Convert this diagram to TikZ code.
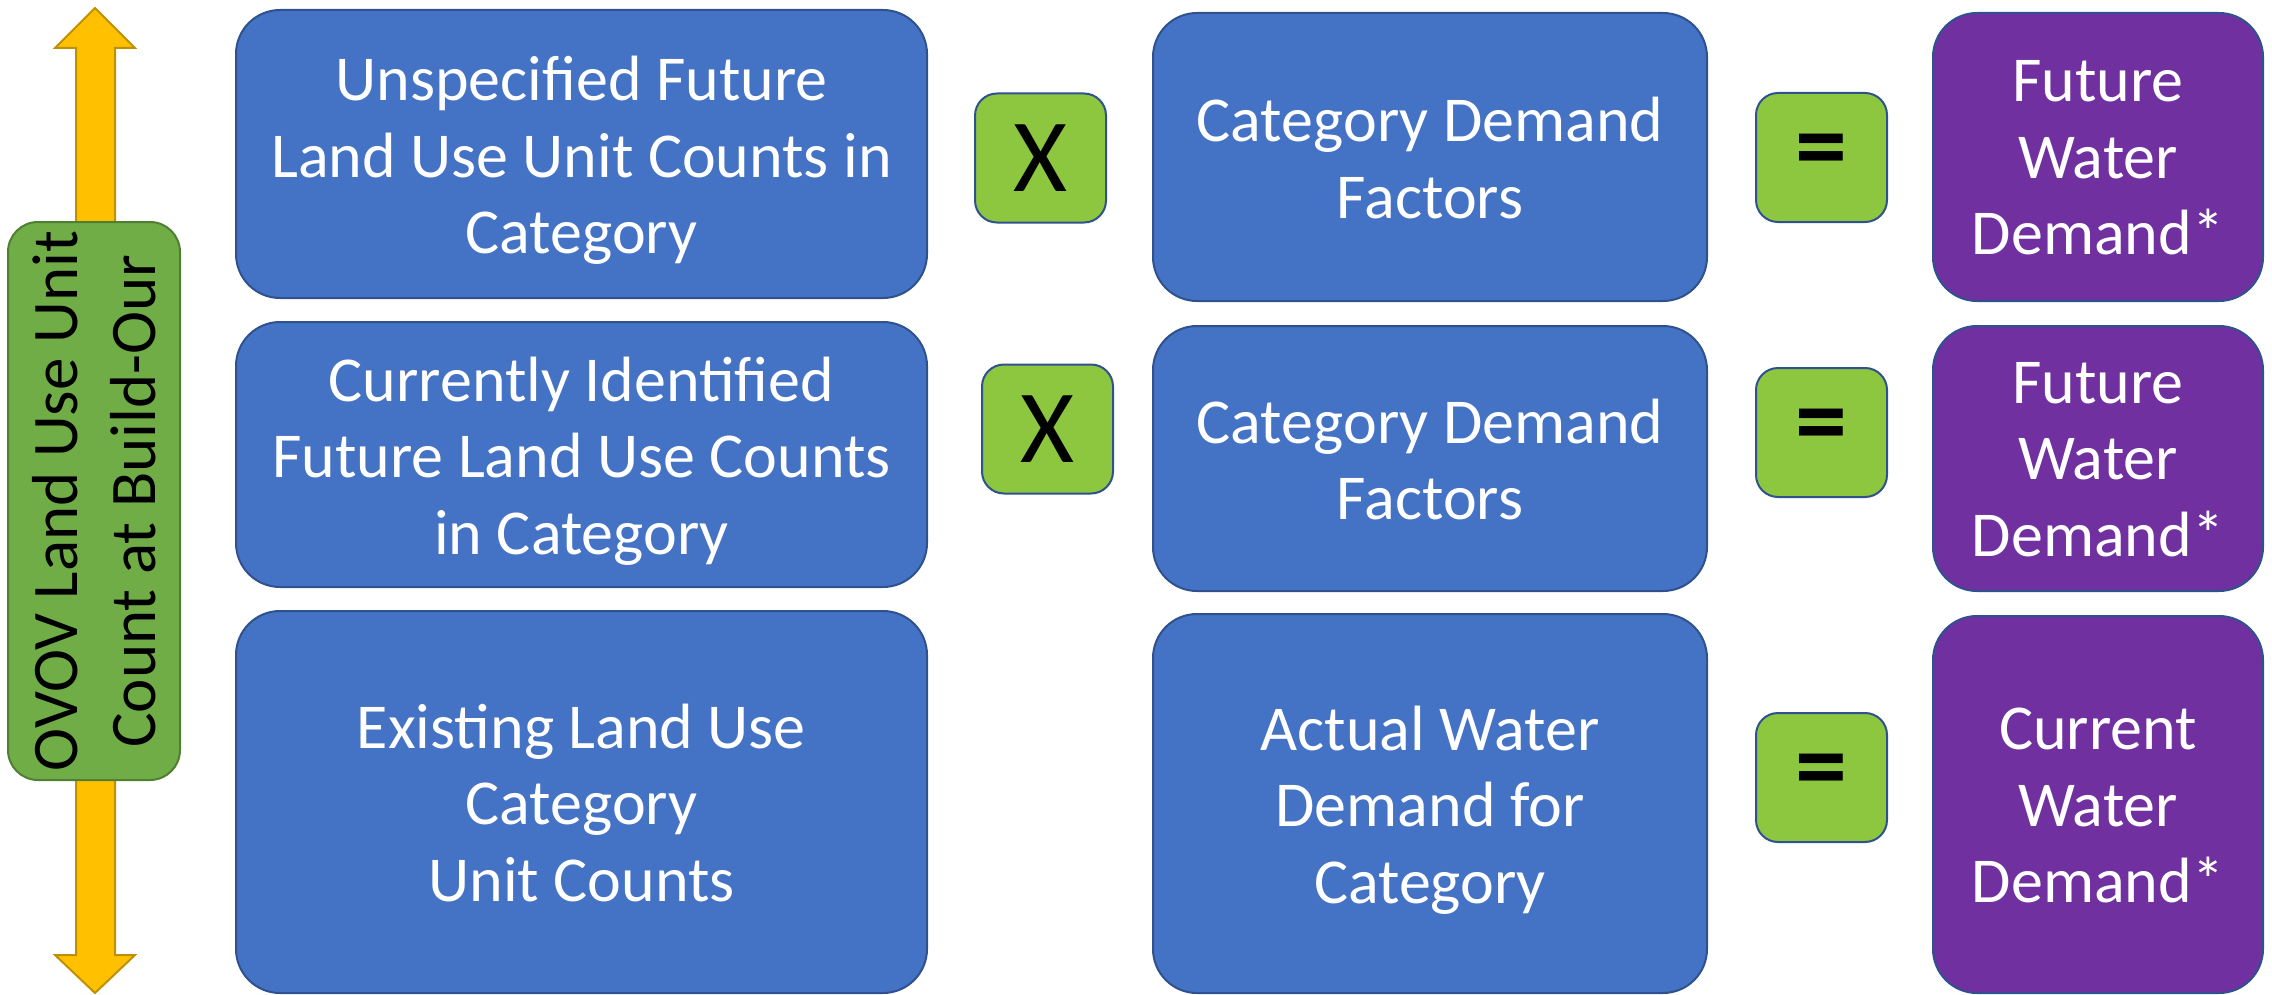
\documentclass[tikz,border=0pt]{standalone}
\usepackage{fontspec}
\setmainfont{Carlito}
\definecolor{blueFill}{HTML}{4472C4}
\definecolor{blueLine}{HTML}{2F528F}
\definecolor{purpleFill}{HTML}{7030A0}
\definecolor{opFill}{HTML}{8DC63F}
\definecolor{greenFill}{HTML}{70AD47}
\definecolor{greenLine}{HTML}{507E32}
\definecolor{arrowFill}{HTML}{FFC000}
\definecolor{arrowLine}{HTML}{BF9000}
\tikzset{
  bigbox/.style={draw=blueLine, line width=1pt, rounded corners=22pt, inner sep=0pt},
  boxtext/.style={text=white, align=center, font=\fontsize{32}{38.25}\selectfont},
  textA/.style={boxtext, yshift=-0.5pt},
  textB/.style={boxtext, yshift=-3.2pt},
  bluebox/.style={bigbox, fill=blueFill, minimum width=345.5pt},
  midbox/.style={bigbox, fill=blueFill, minimum width=277pt},
  resbox/.style={bigbox, fill=purpleFill, minimum width=165pt},
  opbox/.style={draw=blueLine, line width=1pt, fill=opFill, rounded corners=11pt, inner sep=0pt,
    minimum width=65.5pt, minimum height=64.5pt, text=black, font=\fontsize{52}{52}\selectfont},
  eqbox/.style={opbox, font=\fontsize{52}{52}\selectfont\bfseries},
  sidebox/.style={draw=greenLine, line width=1pt, fill=greenFill, rounded corners=15pt, inner sep=0pt,
    minimum width=86pt, minimum height=279pt},
  sidetext/.style={rotate=90, align=center, text=black, font=\fontsize{32.5}{39}\selectfont},
  bigarrow/.style={draw=arrowLine, line width=1pt, fill=arrowFill}
}
\begin{document}
\begin{tikzpicture}[x=0.5pt, y=-0.5pt]
\useasboundingbox (0,0) rectangle (2272,995);
% double arrow behind the side box
\draw[bigarrow] (95,8) -- (135,48) -- (115,48) -- (115,955) -- (135,955) -- (95,993)
  -- (55,955) -- (76,955) -- (76,48) -- (55,48) -- cycle;
\node[sidebox] (side) at (94,501) {};
\node[sidetext] (sidelabel) at (side.center) {OVOV Land Use Unit\\Count at Build-Our};
% row 1
\node[bluebox, minimum height=144pt] (l1) at (581.5,154) {};
\node[textB] (l1t) at (l1.center) {Unspecified Future\\Land Use Unit Counts in\\Category};
\node[opbox] (x1) at (1040.5,158) {X};
\node[midbox, minimum height=144pt] (m1) at (1430,157) {};
\node[textA] (m1t) at (m1.center) {Category Demand\\Factors};
\node[eqbox] (e1) at (1821.5,157.5) {=};
\node[resbox, minimum height=144pt] (r1) at (2098,157) {};
\node[textA] (r1t) at (r1.center) {Future\\Water\\Demand*};
% row 2
\node[bluebox, minimum height=132.5pt] (l2) at (581.5,454.5) {};
\node[textB] (l2t) at (l2.center) {Currently Identified\\Future Land Use Counts\\in Category};
\node[opbox] (x2) at (1047.5,429) {X};
\node[midbox, minimum height=132.5pt] (m2) at (1430,458.5) {};
\node[textA] (m2t) at (m2.center) {Category Demand\\Factors};
\node[eqbox] (e2) at (1821.5,432.5) {=};
\node[resbox, minimum height=132.5pt] (r2) at (2098,458.5) {};
\node[textA] (r2t) at (r2.center) {Future\\Water\\Demand*};
% row 3
\node[bluebox, minimum height=191pt] (l3) at (581.5,802) {};
\node[textA] (l3t) at (l3.center) {Existing Land Use\\Category\\Unit Counts};
\node[midbox, minimum height=189.5pt] (m3) at (1430,803.5) {};
\node[textB] (m3t) at (m3.center) {Actual Water\\Demand for\\Category};
\node[eqbox] (e3) at (1821.5,777.5) {=};
\node[resbox, minimum height=188.5pt] (r3) at (2098,804.5) {};
\node[textA] (r3t) at (r3.center) {Current\\Water\\Demand*};
\end{tikzpicture}
\end{document}
